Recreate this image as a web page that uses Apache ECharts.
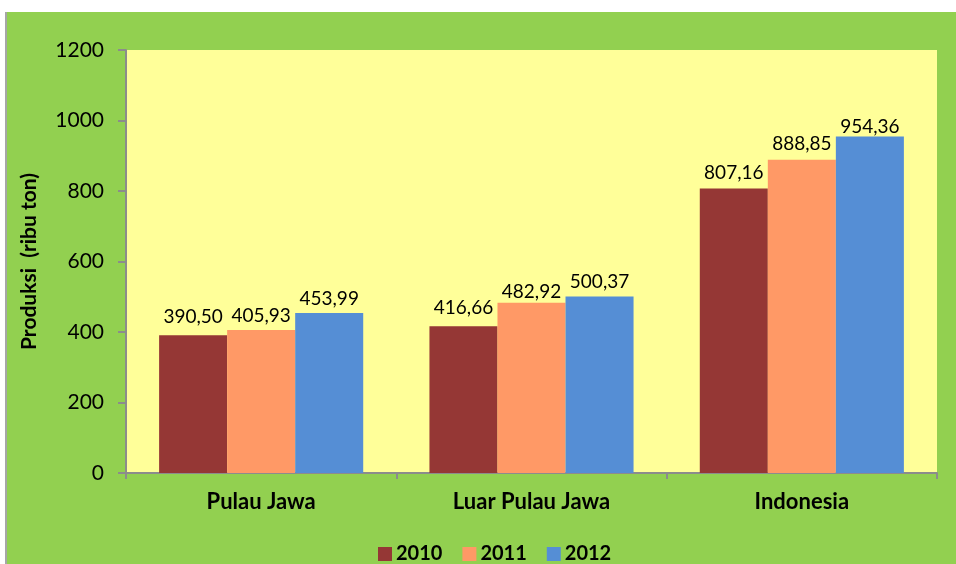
<!DOCTYPE html>
<html>
<head>
<meta charset="utf-8">
<script src="https://cdn.jsdelivr.net/npm/echarts@6/dist/echarts.min.js"></script>
<style>
  html, body { margin: 0; padding: 0; background: #fff; }
  #chart-view {
    position: absolute;
    left: 5px;
    top: 12px;
    width: 951px;
    height: 552px;
    background: #92D050;
    border-left: 2px solid #a6a6a6;
    box-sizing: border-box;
  }
</style>
</head>
<body>
<div id="chart-view"></div>
<script>
const categories = ['Pulau Jawa', 'Luar Pulau Jawa', 'Indonesia'];
const years = ['2010', '2011', '2012'];
const values2010 = [390.50, 416.66, 807.16];
const values2011 = [405.93, 482.92, 888.85];
const values2012 = [453.99, 500.37, 954.36];
const colors = ['#953735', '#FF9966', '#558ED5'];
// label gap above each bar, as Excel placed them
const labelGaps = [[9, 9, 6], [5, 1, 6], [5, 5, 0]];

const font = 'Lato, "Open Sans", sans-serif';

function fmt(v) {
  return v.toFixed(2).replace('.', ',');
}

const seriesValues = [values2010, values2011, values2012];

const defaultOption = {
  animation: false,
  textStyle: { fontFamily: font },
  grid: {
    left: 119,
    right: 19,
    top: 38,
    bottom: 91,
    show: true,
    backgroundColor: '#FFFF99',
    borderWidth: 0
  },
  legend: {
    data: years,
    left: 366,
    top: 527,
    itemWidth: 14,
    itemHeight: 14,
    itemGap: 20,
    icon: 'rect',
    textStyle: {
      fontFamily: font,
      fontSize: 20,
      fontWeight: 'bold',
      color: '#000',
      padding: [0, 0, 0, -1]
    }
  },
  xAxis: {
    type: 'category',
    data: categories,
    axisLine: { show: true, lineStyle: { color: '#8c8c8c', width: 2 } },
    axisTick: { show: true, length: 6, lineStyle: { color: '#8c8c8c', width: 2 } },
    axisLabel: {
      fontFamily: font,
      fontSize: 22,
      fontWeight: 'bold',
      color: '#000',
      margin: 18
    }
  },
  yAxis: {
    type: 'value',
    min: 0,
    max: 1200,
    interval: 200,
    name: 'Produksi  (ribu ton)',
    nameLocation: 'middle',
    nameGap: 86,
    nameTextStyle: {
      fontFamily: font,
      fontSize: 21,
      fontWeight: 'bold',
      color: '#000'
    },
    axisLine: { show: true, lineStyle: { color: '#8c8c8c', width: 2 } },
    axisTick: { show: true, length: 8, lineStyle: { color: '#8c8c8c', width: 2 } },
    splitLine: { show: false },
    axisLabel: {
      fontFamily: font,
      fontSize: 21,
      color: '#000',
      margin: 22,
      formatter: v => String(v)
    }
  },
  series: years.map((y, i) => ({
    name: y,
    type: 'bar',
    barGap: '0%',
    barCategoryGap: '24.5%',
    itemStyle: { color: colors[i] },
    label: {
      show: true,
      position: 'top',
      fontFamily: font,
      fontSize: 19,
      color: '#000',
      formatter: p => fmt(p.value)
    },
    data: seriesValues[i].map((v, j) => ({
      value: v,
      label: { distance: labelGaps[i][j] }
    }))
  }))
};

const chartDom = document.getElementById('chart-view');
const myChart = echarts.init(chartDom);
myChart.setOption(defaultOption);
</script>
</body>
</html>
